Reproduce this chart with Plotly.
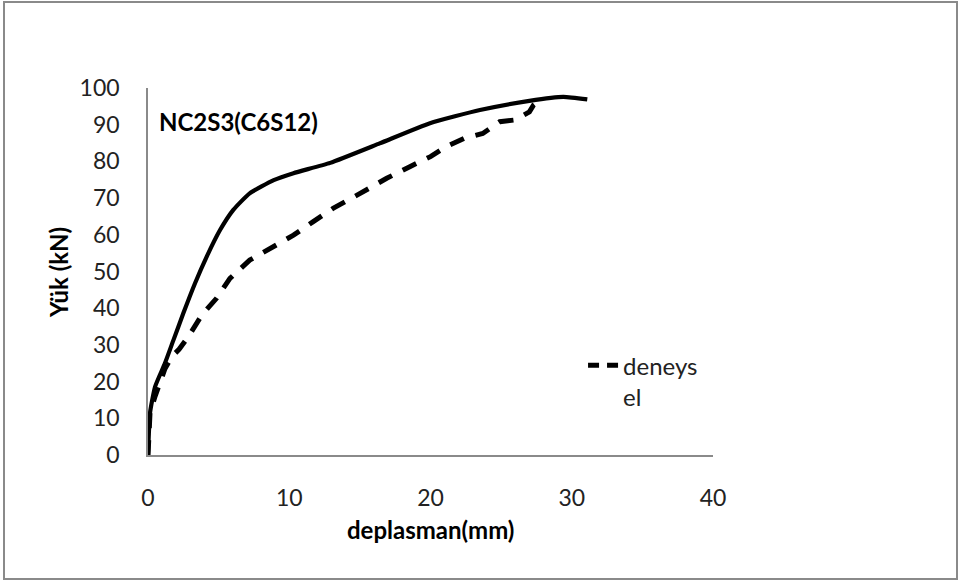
import plotly.graph_objects as go

# Analytical curve (solid)
x_anal = [0, 0.05, 0.14, 0.5, 1.2, 1.8, 2.5, 3.33, 4.15, 5.1, 6.04, 7.2, 8.9, 10.3,
          12.9, 16.4, 19.96, 23.5, 27.0, 29.4, 31.1]
y_anal = [0, 5, 11.4, 18.6, 25, 31.3, 38.6, 46.8, 54, 61.3, 66.8, 71.3, 74.9, 76.8,
          79.6, 84.9, 90.4, 94.0, 96.5, 97.6, 96.9]

# Experimental curve (dashed, "deneysel")
x_exp = [0, 0.05, 0.14, 0.5, 0.85, 1.2, 1.68, 2.2, 2.85, 3.8, 4.85, 5.8, 7.2, 8.87, 10.3,
         11.7, 13.1, 14.8, 16.9, 18.5, 20.0, 21.1, 22.4, 23.7, 24.9, 26.0, 27.0, 27.3, 27.5]
y_exp = [0, 5, 11.4, 16, 19.5, 23.5, 26.8, 28.8, 32.2, 38.1, 42.7, 48.1, 53.1, 56.8, 59.9,
         63.6, 67.2, 70.8, 75.4, 78.5, 81.3, 84.0, 86.3, 87.6, 90.8, 91.3, 93.5, 95.4, 96.0]

legend_name = "deneys<br>el"

x_ticks = [0, 10, 20, 30, 40]
y_ticks = [0, 10, 20, 30, 40, 50, 60, 70, 80, 90, 100]

FONT = "Lato"
TICK = 23
BOLD = 24

fig = go.Figure()
fig.add_trace(go.Scatter(x=x_anal, y=y_anal, mode="lines", showlegend=False,
                         line=dict(color="black", width=4.2, shape="spline", smoothing=0.5)))
fig.add_trace(go.Scatter(x=x_exp, y=y_exp, mode="lines", showlegend=False,
                         line=dict(color="black", width=5, dash="15px,12px")))
# legend entry for the experimental series
fig.add_trace(go.Scatter(x=[None], y=[None], mode="lines", name=legend_name,
                         line=dict(color="black", width=5, dash="11px,8px")))

fig.update_layout(
    width=960, height=582,
    margin=dict(l=148, r=247, t=88, b=127),
    plot_bgcolor="white", paper_bgcolor="white",
    font=dict(family=FONT, size=TICK, color="#222222"),
    xaxis=dict(range=[0, 40], tickvals=x_ticks, showgrid=False, zeroline=False,
               showline=True, linecolor="#8a8a8a", linewidth=1.5, ticks="",
               ticklabelstandoff=22),
    yaxis=dict(range=[0, 100], tickvals=y_ticks, showgrid=False, zeroline=False,
               showline=True, linecolor="#8a8a8a", linewidth=1.5, ticks="",
               ticklabelstandoff=22),
    legend=dict(x=0.77, y=0.305, xanchor="left", yanchor="top", valign="top",
                bgcolor="rgba(0,0,0,0)", font=dict(size=BOLD, color="#222222")),
    annotations=[
        dict(text="<b>NC2S3(C6S12)</b>", x=(157 - 148) / 565, y=(455 - 121) / 367,
             xref="paper", yref="paper", xanchor="left", yanchor="middle",
             showarrow=False, font=dict(size=BOLD, color="black")),
        dict(text="<b>deplasman(mm)</b>", x=(430 - 148) / 565, y=(455 - 529) / 367,
             xref="paper", yref="paper", xanchor="center", yanchor="middle",
             showarrow=False, font=dict(size=BOLD, color="black")),
        dict(text="<b>Yük (kN)</b>", x=(58 - 148) / 565, y=(455 - 273) / 367,
             xref="paper", yref="paper", xanchor="center", yanchor="middle",
             textangle=-90, showarrow=False, font=dict(size=BOLD, color="black")),
    ],
    shapes=[dict(type="rect", xref="paper", yref="paper",
                 x0=(4 - 148) / 565, x1=(957 - 148) / 565,
                 y0=(455 - 579) / 367, y1=(455 - 2) / 367,
                 line=dict(color="#8a8a8a", width=2))],
)

fig.write_html("out.html")
